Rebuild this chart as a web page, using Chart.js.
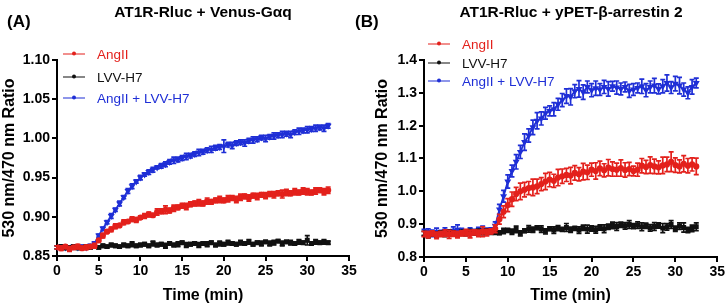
<!DOCTYPE html>
<html lang="en">
<head>
    <meta charset="UTF-8">
    <title>AT1R BRET kinetics</title>
    <style>
        body { margin: 0; background: #fff; font-family: "Liberation Sans", Arial, sans-serif; }
        .wrap { position: relative; width: 727px; height: 305px; overflow: hidden; }
        .panel { position: absolute; top: 0; height: 305px; }
        .ttl { position: absolute; font-weight: bold; font-size: 15.5px; white-space: nowrap; transform: translate(-50%, -50%); }
        .tag { position: absolute; font-weight: bold; font-size: 17px; transform: translateY(-50%); }
        .leg { position: absolute; font-size: 13.5px; white-space: nowrap; transform: translateY(-50%); display: flex; align-items: center; }
        .leg i { position: relative; display: inline-block; width: 22px; height: 1.5px; margin-right: 12px; }
        .leg i b { position: absolute; left: 9px; top: -1.5px; width: 4px; height: 4px; border-radius: 50%; }
    </style>
</head>
<body>
<div class="wrap">
    <div class="panel" style="left:0;width:360px"><canvas id="chartA"></canvas></div>
    <div class="panel" style="left:360px;width:367px"><canvas id="chartB"></canvas></div>
    <div class="tag" style="left:7px;top:22px">(A)</div>
    <div class="tag" style="left:355px;top:22px">(B)</div>
    <div class="ttl" style="left:203px;top:12px">AT1R-Rluc + Venus-Gαq</div>
    <div class="ttl" style="left:571px;top:12px">AT1R-Rluc + yPET-β-arrestin 2</div>
    <div id="legA"></div>
    <div id="legB"></div>
</div>
<script src="https://cdn.jsdelivr.net/npm/chart.js@4.4.1/dist/chart.umd.min.js"></script>
<script>
// time points (min)
const time = [0, 0.5, 1, 1.5, 2, 2.5, 3, 3.5, 4, 4.5, 5, 5.5, 6, 6.5, 7, 7.5, 8, 8.5, 9, 9.5,
    10, 10.5, 11, 11.5, 12, 12.5, 13, 13.5, 14, 14.5, 15, 15.5, 16, 16.5, 17, 17.5, 18, 18.5, 19, 19.5,
    20, 20.5, 21, 21.5, 22, 22.5, 23, 23.5, 24, 24.5, 25, 25.5, 26, 26.5, 27, 27.5, 28, 28.5, 29, 29.5,
    30, 30.5, 31, 31.5, 32, 32.5];

const seriesNames = ["AngII", "LVV-H7", "AngII + LVV-H7"];

// panel A: AT1R-Rluc + Venus-Gaq
const gqAngII = [0.861, 0.860, 0.862, 0.859, 0.861, 0.862, 0.860, 0.861, 0.862, 0.863,
    0.870, 0.876, 0.881, 0.884, 0.888, 0.889, 0.893, 0.894, 0.897, 0.896,
    0.899, 0.901, 0.903, 0.902, 0.906, 0.907, 0.909, 0.908, 0.911, 0.912,
    0.914, 0.913, 0.916, 0.917, 0.918, 0.917, 0.920, 0.919, 0.921, 0.922,
    0.921, 0.923, 0.924, 0.922, 0.925, 0.926, 0.924, 0.927, 0.926, 0.928,
    0.927, 0.929, 0.928, 0.930, 0.929, 0.931, 0.930, 0.932, 0.931, 0.933,
    0.932, 0.931, 0.933, 0.934, 0.932, 0.934];
const gqAngIIErr = [0.002, 0.003, 0.002, 0.003, 0.002, 0.003, 0.002, 0.003, 0.002, 0.003,
    0.002, 0.003, 0.002, 0.003, 0.003, 0.002, 0.003, 0.002, 0.003, 0.003,
    0.002, 0.003, 0.003, 0.002, 0.004, 0.003, 0.005, 0.003, 0.004, 0.003,
    0.003, 0.004, 0.003, 0.003, 0.004, 0.003, 0.004, 0.003, 0.003, 0.004,
    0.003, 0.004, 0.003, 0.004, 0.004, 0.003, 0.004, 0.003, 0.004, 0.003,
    0.004, 0.003, 0.004, 0.003, 0.005, 0.004, 0.003, 0.004, 0.003, 0.004,
    0.004, 0.003, 0.004, 0.003, 0.004, 0.004];
const gqLVV = [0.861, 0.862, 0.860, 0.861, 0.862, 0.860, 0.861, 0.862, 0.861, 0.862,
    0.861, 0.863, 0.862, 0.864, 0.863, 0.862, 0.864, 0.863, 0.865, 0.863,
    0.864, 0.865, 0.863, 0.866, 0.864, 0.865, 0.863, 0.866, 0.864, 0.865,
    0.867, 0.864, 0.865, 0.866, 0.864, 0.866, 0.865, 0.867, 0.864, 0.866,
    0.865, 0.867, 0.866, 0.865, 0.867, 0.866, 0.868, 0.865, 0.867, 0.866,
    0.868, 0.866, 0.867, 0.869, 0.866, 0.868, 0.867, 0.866, 0.868, 0.867,
    0.870, 0.866, 0.868, 0.867, 0.868, 0.867];
const gqLVVErr = [0.002, 0.002, 0.001, 0.002, 0.002, 0.001, 0.002, 0.002, 0.002, 0.002,
    0.002, 0.002, 0.002, 0.002, 0.002, 0.002, 0.002, 0.002, 0.003, 0.002,
    0.002, 0.002, 0.002, 0.003, 0.002, 0.002, 0.003, 0.002, 0.002, 0.003,
    0.002, 0.003, 0.002, 0.002, 0.003, 0.002, 0.003, 0.002, 0.002, 0.003,
    0.002, 0.003, 0.002, 0.002, 0.003, 0.002, 0.003, 0.002, 0.002, 0.003,
    0.002, 0.003, 0.003, 0.002, 0.003, 0.002, 0.003, 0.002, 0.003, 0.002,
    0.006, 0.002, 0.003, 0.002, 0.003, 0.002];
const gqBoth = [0.861, 0.862, 0.861, 0.860, 0.862, 0.861, 0.862, 0.861, 0.863, 0.866,
    0.876, 0.885, 0.893, 0.901, 0.909, 0.917, 0.925, 0.933, 0.939, 0.945,
    0.950, 0.954, 0.957, 0.960, 0.963, 0.965, 0.967, 0.970, 0.972, 0.973,
    0.975, 0.977, 0.978, 0.980, 0.982, 0.983, 0.985, 0.986, 0.988, 0.989,
    0.990, 0.992, 0.991, 0.994, 0.995, 0.994, 0.997, 0.998, 0.999, 1.001,
    1.000, 1.002, 1.003, 1.004, 1.005, 1.006, 1.005, 1.008, 1.009, 1.010,
    1.011, 1.012, 1.013, 1.014, 1.013, 1.016];
const gqBothErr = [0.002, 0.002, 0.002, 0.002, 0.002, 0.002, 0.002, 0.002, 0.002, 0.002,
    0.002, 0.002, 0.002, 0.003, 0.002, 0.003, 0.002, 0.003, 0.003, 0.002,
    0.003, 0.002, 0.003, 0.003, 0.002, 0.003, 0.003, 0.003, 0.004, 0.003,
    0.003, 0.004, 0.003, 0.003, 0.004, 0.003, 0.003, 0.004, 0.003, 0.003,
    0.008, 0.003, 0.004, 0.003, 0.003, 0.004, 0.003, 0.004, 0.003, 0.003,
    0.004, 0.003, 0.004, 0.003, 0.004, 0.003, 0.004, 0.003, 0.004, 0.003,
    0.004, 0.003, 0.004, 0.003, 0.004, 0.003];

// panel B: AT1R-Rluc + yPET-beta-arrestin 2
const arrAngII = [0.870, 0.868, 0.872, 0.866, 0.870, 0.873, 0.869, 0.871, 0.868, 0.872,
    0.874, 0.870, 0.875, 0.872, 0.877, 0.874, 0.878, 0.886, 0.915, 0.938,
    0.958, 0.976, 0.992, 1.000, 1.005, 1.010, 1.012, 1.015, 1.022, 1.030,
    1.036, 1.032, 1.042, 1.046, 1.050, 1.048, 1.056, 1.052, 1.060, 1.058,
    1.066, 1.062, 1.070, 1.064, 1.072, 1.068, 1.066, 1.071, 1.065, 1.068,
    1.062, 1.066, 1.078, 1.074, 1.080, 1.076, 1.073, 1.079, 1.082, 1.090,
    1.080, 1.076, 1.084, 1.078, 1.082, 1.076];
const arrAngIIErr = [0.008, 0.010, 0.008, 0.010, 0.008, 0.010, 0.012, 0.008, 0.010, 0.008,
    0.010, 0.012, 0.008, 0.010, 0.015, 0.010, 0.008, 0.012, 0.015, 0.018,
    0.020, 0.022, 0.020, 0.025, 0.022, 0.020, 0.025, 0.022, 0.020, 0.025,
    0.022, 0.020, 0.025, 0.022, 0.020, 0.025, 0.022, 0.020, 0.025, 0.022,
    0.020, 0.025, 0.022, 0.020, 0.025, 0.022, 0.020, 0.025, 0.022, 0.020,
    0.015, 0.020, 0.022, 0.020, 0.025, 0.022, 0.020, 0.025, 0.022, 0.030,
    0.022, 0.020, 0.025, 0.022, 0.020, 0.025];
const arrLVV = [0.872, 0.866, 0.870, 0.868, 0.874, 0.870, 0.876, 0.872, 0.869, 0.874,
    0.871, 0.876, 0.873, 0.877, 0.874, 0.878, 0.875, 0.877, 0.874, 0.879,
    0.881, 0.877, 0.884, 0.872, 0.880, 0.886, 0.883, 0.889, 0.885, 0.878,
    0.886, 0.882, 0.888, 0.884, 0.890, 0.883, 0.887, 0.882, 0.889, 0.885,
    0.887, 0.883, 0.890, 0.886, 0.892, 0.896, 0.893, 0.898, 0.895, 0.899,
    0.894, 0.897, 0.892, 0.895, 0.889, 0.893, 0.896, 0.888, 0.892, 0.899,
    0.886, 0.894, 0.890, 0.882, 0.887, 0.892];
const arrLVVErr = [0.006, 0.008, 0.006, 0.008, 0.006, 0.008, 0.006, 0.008, 0.006, 0.008,
    0.006, 0.008, 0.006, 0.008, 0.006, 0.008, 0.006, 0.008, 0.006, 0.008,
    0.006, 0.008, 0.010, 0.008, 0.006, 0.010, 0.008, 0.006, 0.010, 0.008,
    0.006, 0.010, 0.008, 0.006, 0.012, 0.008, 0.006, 0.010, 0.008, 0.012,
    0.008, 0.010, 0.008, 0.012, 0.008, 0.010, 0.012, 0.008, 0.010, 0.012,
    0.008, 0.010, 0.012, 0.008, 0.010, 0.012, 0.008, 0.014, 0.010, 0.012,
    0.008, 0.010, 0.014, 0.008, 0.010, 0.012];
const arrBoth = [0.874, 0.878, 0.872, 0.876, 0.873, 0.879, 0.875, 0.880, 0.883, 0.877,
    0.875, 0.879, 0.876, 0.880, 0.882, 0.878, 0.881, 0.895, 0.945, 0.985,
    1.030, 1.062, 1.090, 1.120, 1.150, 1.170, 1.195, 1.215, 1.222, 1.238,
    1.245, 1.250, 1.265, 1.278, 1.290, 1.288, 1.305, 1.312, 1.302, 1.318,
    1.308, 1.314, 1.310, 1.318, 1.312, 1.320, 1.316, 1.312, 1.318, 1.306,
    1.310, 1.315, 1.320, 1.308, 1.318, 1.322, 1.312, 1.320, 1.330, 1.316,
    1.328, 1.322, 1.310, 1.300, 1.318, 1.330];
const arrBothErr = [0.010, 0.008, 0.010, 0.012, 0.008, 0.010, 0.008, 0.012, 0.015, 0.010,
    0.008, 0.010, 0.008, 0.010, 0.012, 0.010, 0.008, 0.012, 0.015, 0.018,
    0.020, 0.018, 0.022, 0.020, 0.025, 0.020, 0.022, 0.025, 0.020, 0.018,
    0.015, 0.020, 0.018, 0.020, 0.022, 0.025, 0.020, 0.025, 0.022, 0.018,
    0.020, 0.022, 0.018, 0.020, 0.022, 0.015, 0.020, 0.018, 0.015, 0.020,
    0.018, 0.015, 0.022, 0.020, 0.018, 0.022, 0.015, 0.020, 0.025, 0.018,
    0.022, 0.025, 0.020, 0.018, 0.022, 0.015];

const colors = ["#e3211c", "#111111", "#1f2fd6"];
const shapes = ["circle", "rect", "triangle"];

const FONT = "'Liberation Sans', Arial, sans-serif";

const errorBars = {
    id: 'errorBars',
    afterDatasetDraw(chart, args) {
        const ds = chart.data.datasets[args.index];
        const errs = chart.options.plugins.errorBars.errs[args.index];
        const yScale = chart.scales.y;
        const ctx = chart.ctx;
        ctx.save();
        ctx.strokeStyle = ds.borderColor;
        ctx.lineWidth = 1.7;
        args.meta.data.forEach((pt, i) => {
            const v = ds.data[i].y;
            const top = yScale.getPixelForValue(v + errs[i]);
            const bot = yScale.getPixelForValue(v - errs[i]);
            ctx.beginPath();
            ctx.moveTo(pt.x, top); ctx.lineTo(pt.x, bot);
            ctx.moveTo(pt.x - 2.5, top); ctx.lineTo(pt.x + 2.5, top);
            ctx.moveTo(pt.x - 2.5, bot); ctx.lineTo(pt.x + 2.5, bot);
            ctx.stroke();
        });
        ctx.restore();
    }
};

function makeChart(id, series, errs, yMin, yMax, yStep, dec, pad, yWidth, xHeight) {
    const datasets = series.map((s, k) => ({
        label: seriesNames[k],
        data: time.map((t, i) => ({x: t, y: s[i]})),
        borderColor: colors[k],
        backgroundColor: colors[k],
        borderWidth: 1.8,
        pointStyle: shapes[k],
        pointRotation: k == 2 ? 180 : 0,
        pointRadius: 2.2,
        tension: 0
    }));
    const tickFont = {family: FONT, weight: 'bold', size: 14};
    const titleFont = {family: FONT, weight: 'bold', size: 16};
    return new Chart(document.getElementById(id), {
        type: 'line',
        data: {datasets: datasets},
        plugins: [errorBars],
        options: {
            responsive: true,
            maintainAspectRatio: false,
            animation: false,
            layout: {padding: pad},
            plugins: {
                legend: {display: false},
                tooltip: {enabled: false},
                errorBars: {errs: errs}
            },
            scales: {
                x: {
                    type: 'linear', min: 0, max: 35,
                    ticks: {stepSize: 5, color: '#000', font: tickFont, padding: 2, maxRotation: 0},
                    grid: {drawOnChartArea: false, color: '#000', lineWidth: 2, tickLength: 5},
                    border: {color: '#000', width: 2},
                    title: {display: true, text: 'Time (min)', color: '#000', font: titleFont, padding: {top: 3, bottom: 0}},
                    afterFit: s => { s.height = xHeight; }
                },
                y: {
                    min: yMin, max: yMax,
                    ticks: {stepSize: yStep, color: '#000', font: tickFont, padding: 2,
                        callback: v => v.toFixed(dec)},
                    grid: {drawOnChartArea: false, color: '#000', lineWidth: 2, tickLength: 5},
                    border: {color: '#000', width: 2},
                    title: {display: true, text: '530 nm/470 nm Ratio', color: '#000', font: titleFont, padding: {top: 0, bottom: 0}},
                    afterFit: s => { s.width = yWidth; }
                }
            }
        }
    });
}

function makeLegend(id, left, tops) {
    const box = document.getElementById(id);
    seriesNames.forEach((name, k) => {
        const row = document.createElement('div');
        row.className = 'leg';
        row.style.left = left + 'px';
        row.style.top = tops[k] + 'px';
        row.style.color = colors[k];
        row.innerHTML = '<i style="background:' + colors[k] + '"><b style="background:' + colors[k] + '"></b></i>' + name;
        box.appendChild(row);
    });
}

makeChart('chartA', [gqAngII, gqLVV, gqBoth], [gqAngIIErr, gqLVVErr, gqBothErr],
    0.85, 1.10, 0.05, 2, {left: 0, top: 60, right: 11, bottom: 0}, 57, 49);
makeChart('chartB', [arrAngII, arrLVV, arrBoth], [arrAngIIErr, arrLVVErr, arrBothErr],
    0.8, 1.4, 0.1, 1, {left: 13, top: 60, right: 9, bottom: 0}, 51, 48);

makeLegend('legA', 63, [54, 77, 98]);
makeLegend('legB', 428, [44, 63, 81]);
</script>
</body>
</html>
